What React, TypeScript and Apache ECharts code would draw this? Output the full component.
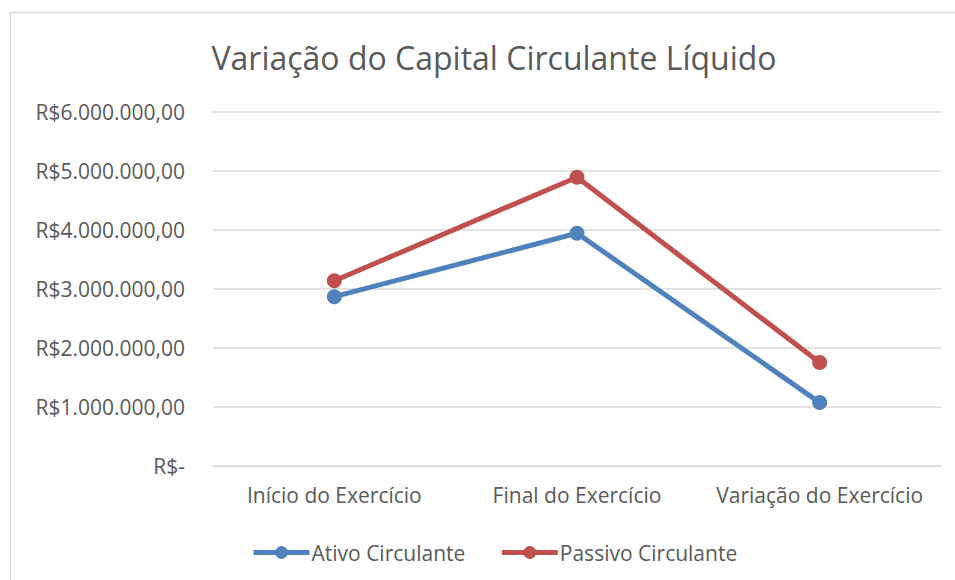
import React, { useEffect, useRef } from "react";
import * as echarts from "echarts";

const categories = ["Início do Exercício", "Final do Exercício", "Variação do Exercício"];
const ativoCirculante = [2866000, 3939000, 1073000];
const passivoCirculante = [3136000, 4887000, 1751000];
const seriesNames = ["Ativo Circulante", "Passivo Circulante"];
const titleText = "Variação do Capital Circulante Líquido";

function formatBRL(v: number): string {
  if (v === 0) return "R$-";
  const intPart = Math.round(v).toString().replace(/\B(?=(\d{3})+(?!\d))/g, ".");
  return "R$" + intPart + ",00";
}

export default function App() {
  const ref = useRef<HTMLDivElement>(null);
  useEffect(() => {
    document.body.style.margin = "0";
    if (!ref.current) return;
    const chart = echarts.init(ref.current, null, { renderer: "svg" });
    const font = "'Open Sans', sans-serif";
    chart.setOption({
      animation: false,
      backgroundColor: "#ffffff",
      textStyle: { fontFamily: font },
      graphic: [
        {
          type: "rect",
          shape: { x: 10.5, y: 12.5, width: 1000, height: 1000 },
          style: { fill: "none", stroke: "#d9d9d9", lineWidth: 1.5 },
          silent: true,
        },
      ],
      title: {
        text: titleText,
        left: 489,
        top: 36,
        textAlign: "center",
        textStyle: { fontFamily: font, fontSize: 32, fontWeight: "normal", color: "#595959" },
      },
      legend: {
        left: 246,
        top: 537,
        itemWidth: 56,
        itemHeight: 16,
        itemGap: 34,
        lineStyle: { width: 5 },
        textStyle: { fontFamily: font, fontSize: 21, color: "#595959", padding: [0, 0, 0, -3] },
        data: seriesNames,
      },
      grid: { left: 213, right: 14, top: 111.5, bottom: 114, containLabel: false },
      xAxis: {
        type: "category",
        data: categories,
        axisLine: { show: true, lineStyle: { color: "#d9d9d9", width: 1.5 } },
        axisTick: { show: false },
        axisLabel: { interval: 0, fontFamily: font, fontSize: 21, color: "#595959", margin: 18 },
      },
      yAxis: {
        type: "value",
        min: 0,
        max: 6000000,
        interval: 1000000,
        axisLine: { show: false },
        axisTick: { show: false },
        splitLine: { lineStyle: { color: "#d9d9d9", width: 1.5 } },
        axisLabel: {
          fontFamily: font,
          fontSize: 21,
          color: "#595959",
          margin: 28,
          formatter: (v: number) => formatBRL(v),
        },
      },
      series: [
        {
          name: seriesNames[0],
          type: "line",
          data: ativoCirculante,
          symbol: "circle",
          symbolSize: 15,
          lineStyle: { width: 5, color: "#4f81bd" },
          itemStyle: { color: "#4f81bd" },
        },
        {
          name: seriesNames[1],
          type: "line",
          data: passivoCirculante,
          symbol: "circle",
          symbolSize: 15,
          lineStyle: { width: 5, color: "#c0504d" },
          itemStyle: { color: "#c0504d" },
        },
      ],
    });
    return () => chart.dispose();
  }, []);
  return <div ref={ref} style={{ width: 955, height: 580 }} />;
}
